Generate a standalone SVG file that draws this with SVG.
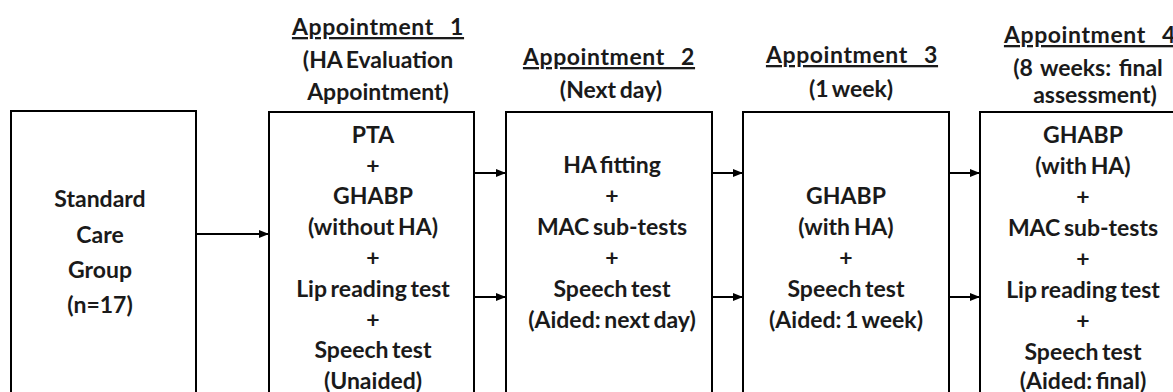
<svg xmlns="http://www.w3.org/2000/svg" width="1173" height="392" viewBox="0 0 1173 392">
<style>
.box{fill:#fff;stroke:#000;stroke-width:2}
.t{font-family:Lato,"Liberation Sans",sans-serif;font-weight:bold;font-size:23px;fill:#1a1a1a;text-anchor:middle;word-spacing:-2px}
.h{text-decoration:underline;word-spacing:10px;letter-spacing:0.6px}
.c{stroke:#000;stroke-width:2;fill:none;marker-end:url(#ah)}
</style>
<defs>
<marker id="ah" markerUnits="userSpaceOnUse" markerWidth="10" markerHeight="10" viewBox="0 0 10 10" refX="10" refY="5" orient="auto">
<path d="M0,1 L10,5 L0,9 Z" fill="#000"/>
</marker>
</defs>
<rect width="1173" height="392" fill="#fff"/>
<g id="header1">
<text class="t h" x="378" y="35">Appointment 1</text>
<text class="t" x="378" y="68">(HA Evaluation</text>
<text class="t" x="378" y="100">Appointment)</text>
</g>
<g id="header2">
<text class="t h" x="609" y="65">Appointment 2</text>
<text class="t" x="611" y="98">(Next day)</text>
</g>
<g id="header3">
<text class="t h" x="852" y="63">Appointment 3</text>
<text class="t" x="851" y="97">(1 week)</text>
</g>
<g id="header4">
<text class="t h" x="1090" y="43">Appointment 4</text>
<text class="t" x="1088" y="76" style="word-spacing:2px">(8 weeks: final</text>
<text class="t" x="1095" y="103">assessment)</text>
</g>
<g id="node0">
<rect class="box" x="11" y="111" width="185" height="300"/>
<text class="t" x="100" y="207">Standard</text>
<text class="t" x="100" y="243">Care</text>
<text class="t" x="100" y="278">Group</text>
<text class="t" x="100" y="313">(n=17)</text>
</g>
<g id="node1">
<rect class="box" x="269" y="112" width="205" height="300"/>
<text class="t" x="373" y="143">PTA</text>
<text class="t" x="373" y="174">+</text>
<text class="t" x="373" y="204">GHABP</text>
<text class="t" x="373" y="235">(without HA)</text>
<text class="t" x="373" y="266">+</text>
<text class="t" x="373" y="297">Lip reading test</text>
<text class="t" x="373" y="328">+</text>
<text class="t" x="373" y="358">Speech test</text>
<text class="t" x="373" y="389">(Unaided)</text>
</g>
<g id="node2">
<rect class="box" x="506" y="112" width="206" height="300"/>
<text class="t" x="612" y="173">HA fitting</text>
<text class="t" x="612" y="204">+</text>
<text class="t" x="612" y="235">MAC sub-tests</text>
<text class="t" x="612" y="266">+</text>
<text class="t" x="612" y="297">Speech test</text>
<text class="t" x="612" y="328">(Aided: next day)</text>
</g>
<g id="node3">
<rect class="box" x="743" y="112" width="206" height="300"/>
<text class="t" x="846" y="204">GHABP</text>
<text class="t" x="846" y="235">(with HA)</text>
<text class="t" x="846" y="266">+</text>
<text class="t" x="846" y="297">Speech test</text>
<text class="t" x="846" y="328">(Aided: 1 week)</text>
</g>
<g id="node4">
<rect class="box" x="980" y="112" width="210" height="300"/>
<text class="t" x="1083" y="143">GHABP</text>
<text class="t" x="1083" y="174">(with HA)</text>
<text class="t" x="1083" y="205">+</text>
<text class="t" x="1083" y="236">MAC sub-tests</text>
<text class="t" x="1083" y="267">+</text>
<text class="t" x="1083" y="298">Lip reading test</text>
<text class="t" x="1083" y="329">+</text>
<text class="t" x="1083" y="360">Speech test</text>
<text class="t" x="1083" y="389">(Aided: final)</text>
</g>
<g id="connectors">
<line class="c" x1="196" y1="234" x2="269" y2="234"/>
<line class="c" x1="474" y1="173" x2="506" y2="173"/>
<line class="c" x1="474" y1="297" x2="506" y2="297"/>
<line class="c" x1="712" y1="173" x2="743" y2="173"/>
<line class="c" x1="712" y1="297" x2="743" y2="297"/>
<line class="c" x1="949" y1="173" x2="980" y2="173"/>
<line class="c" x1="949" y1="297" x2="980" y2="297"/>
</g>
</svg>
